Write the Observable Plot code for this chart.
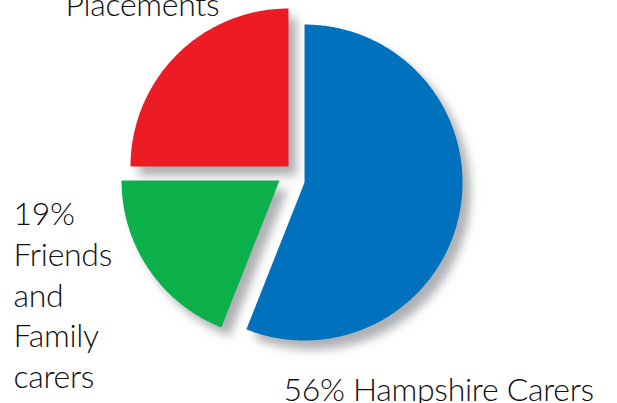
<!DOCTYPE html>
<html><head><meta charset="utf-8">
<script src="https://cdn.jsdelivr.net/npm/d3@7"></script>
<script src="https://cdn.jsdelivr.net/npm/@observablehq/plot@0.6"></script>
<style>
body{margin:0;background:#fff;overflow:hidden}
#chart svg{display:block}
#chart g.slice{filter:drop-shadow(8px 9px 5px rgba(95,97,105,0.5))}
#chart g.lbl text{letter-spacing:-0.3px}
</style>
</head><body><div id="chart"></div>
<script>
const categories = ["Hampshire Carers", "Friends and Family carers", "Placements"];
const shares = [56, 19, 25];
const labels = ["56% Hampshire Carers", "19%\nFriends\nand\nFamily\ncarers", "Placements"];
const colors = ["#0071bc", "#0bb04b", "#ed1c24"];

const W = 617, H = 403, R = 158, cx = 304, cy = 182;
// pixel offsets of exploded slices
const explode = {"Hampshire Carers": [0, 0], "Friends and Family carers": [-25, -2], "Placements": [-16, -16]};

const pie = d3.pie().sort(null).value(d => d.value)(categories.map((c, i) => ({category: c, value: shares[i], color: colors[i]})));
const slices = pie.map(p => {
  const [ox, oy] = explode[p.data.category];
  const pts = [{x: ox / R, y: oy / R}];
  const n = Math.max(2, Math.ceil((p.endAngle - p.startAngle) / 0.01));
  for (let k = 0; k <= n; k++) {
    const a = p.startAngle + (p.endAngle - p.startAngle) * k / n;
    pts.push({x: ox / R + Math.sin(a), y: oy / R - Math.cos(a)});
  }
  return {category: p.data.category, color: p.data.color, pts};
});
// draw order: red, green, blue
const order = [2, 1, 0];
const font = "Lato, 'Open Sans', sans-serif";
const textOpts = {frameAnchor: "top-left", textAnchor: "start", lineAnchor: "top", fontSize: 32, fontWeight: 300, fill: "#111", fontFamily: font, lineHeight: 1.28, className: "lbl"};

const plot = Plot.plot({
  width: W, height: H, margin: 0,
  x: {domain: [-cx / R, (W - cx) / R], range: [0, W], axis: null},
  y: {domain: [-cy / R, (H - cy) / R], range: [0, H], axis: null},
  marks: [
    ...order.map(i => Plot.line(slices[i].pts, {x: "x", y: "y", fill: slices[i].color, stroke: "none", className: "slice"})),
    Plot.text([labels[0]], {...textOpts, text: d => d, dx: 283, dy: 371}),
    Plot.text([labels[1]], {...textOpts, text: d => d, dx: 13, dy: 195}),
    Plot.text([labels[2]], {...textOpts, text: d => d, dx: 65, dy: -14})
  ]
});
document.getElementById("chart").appendChild(plot);
</script>
</body></html>
